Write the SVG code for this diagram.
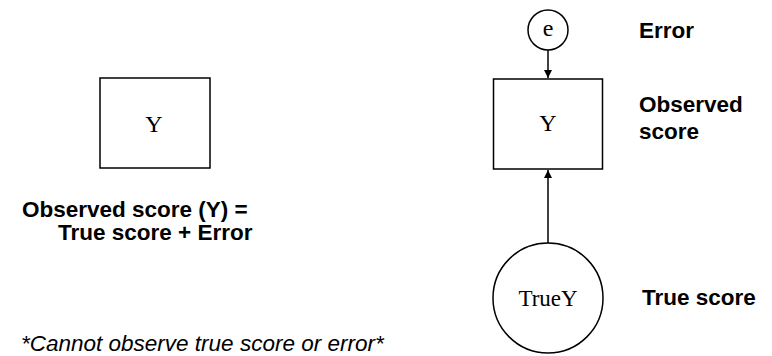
<svg xmlns="http://www.w3.org/2000/svg" width="772" height="356" viewBox="0 0 772 356">
  <style>
    .shape { fill: #ffffff; stroke: #000000; stroke-width: 1.5; }
    .edge { fill: none; stroke: #000000; stroke-width: 1.5; }
    .var { font-family: "Liberation Serif", "Times New Roman", serif; font-size: 24px; fill: #000000; text-anchor: middle; }
    .lbl { font-family: "Liberation Sans", Arial, sans-serif; font-size: 22.5px; font-weight: bold; fill: #000000; }
    .note { font-family: "Liberation Sans", Arial, sans-serif; font-size: 22.5px; font-style: italic; fill: #000000; }
  </style>
  <defs>
    <marker id="arrow" markerWidth="10" markerHeight="10" refX="9" refY="5" orient="auto" markerUnits="userSpaceOnUse">
      <path d="M1,1 L9,5 L1,9 Z" fill="#000000"/>
    </marker>
  </defs>

  <!-- Left: single observed variable -->
  <g id="observed-left">
    <rect class="shape" x="100" y="78" width="110" height="90"/>
    <text class="var" x="154" y="132">Y</text>
  </g>
  <g id="equation">
    <text class="lbl" x="22" y="217">Observed score (Y) =</text>
    <text class="lbl" x="58" y="240">True score + Error</text>
  </g>
  <text class="note" x="21" y="351">*Cannot observe true score or error*</text>

  <!-- Right: measurement model -->
  <g id="connectors">
    <line class="edge" x1="548" y1="50" x2="548" y2="78" marker-end="url(#arrow)"/>
    <line class="edge" x1="548" y1="243" x2="548" y2="170" marker-end="url(#arrow)"/>
  </g>
  <g id="error">
    <circle class="shape" cx="548" cy="30" r="20"/>
    <text class="var" x="548" y="36">e</text>
  </g>
  <g id="observed-right">
    <rect class="shape" x="493.5" y="79" width="109" height="90"/>
    <text class="var" x="548" y="131">Y</text>
  </g>
  <g id="true-score">
    <circle class="shape" cx="548" cy="298" r="55"/>
    <text class="var" x="548" y="306" style="font-size:23px">TrueY</text>
  </g>

  <g id="labels">
    <text class="lbl" x="639" y="38">Error</text>
    <text class="lbl" x="639" y="112">Observed</text>
    <text class="lbl" x="639" y="139">score</text>
    <text class="lbl" x="642" y="305">True score</text>
  </g>
</svg>
